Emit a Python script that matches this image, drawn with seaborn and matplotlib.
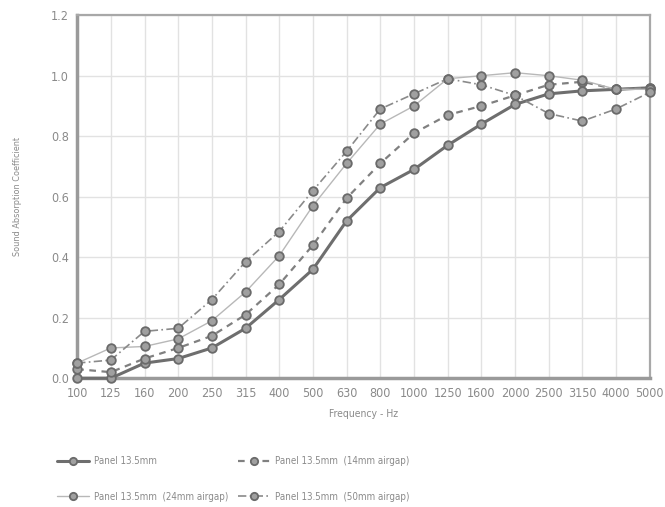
import numpy as np
import pandas as pd
import matplotlib
matplotlib.use("Agg")
import matplotlib.pyplot as plt
import seaborn as sns
from matplotlib import font_manager

# frequency bands (Hz) and absorption coefficients
freqs = ["100", "125", "160", "200", "250", "315", "400", "500", "630",
         "800", "1000", "1250", "1600", "2000", "2500", "3150", "4000", "5000"]
panel = [0.00, 0.00, 0.05, 0.065, 0.10, 0.165, 0.26, 0.36, 0.52,
         0.63, 0.69, 0.77, 0.84, 0.905, 0.94, 0.95, 0.955, 0.96]
gap14 = [0.03, 0.02, 0.065, 0.10, 0.14, 0.21, 0.31, 0.44, 0.595,
         0.71, 0.81, 0.87, 0.90, 0.935, 0.97, 0.98, 0.955, 0.96]
gap24 = [0.05, 0.10, 0.105, 0.13, 0.19, 0.285, 0.405, 0.57, 0.71,
         0.84, 0.90, 0.99, 1.00, 1.01, 1.00, 0.985, 0.955, 0.955]
gap50 = [0.05, 0.06, 0.155, 0.165, 0.26, 0.385, 0.485, 0.62, 0.75,
         0.89, 0.94, 0.99, 0.97, 0.935, 0.875, 0.85, 0.89, 0.945]
labels = ["Panel 13.5mm", "Panel 13.5mm  (14mm airgap)",
          "Panel 13.5mm  (24mm airgap)", "Panel 13.5mm  (50mm airgap)"]

sns.set_style("white")
plt.rcParams['font.family'] = ['DejaVu Sans']
plt.rcParams['font.stretch'] = 'condensed'
# check whether a condensed face exists at all
has_cond = any("Condensed" in f.fname for f in font_manager.fontManager.ttflist)
tick_fs = 9 if has_cond else 8

df = pd.DataFrame({"pos": np.arange(len(freqs))})
styles = [
    dict(color="#6e6e6e", lw=2.2, ls="-"),
    dict(color="#808080", lw=1.6, ls=(0, (3, 2.5))),
    dict(color="#b8b8b8", lw=1.0, ls="-"),
    dict(color="#8a8a8a", lw=1.2, ls=(0, (5, 2, 1, 2))),
]

fig = plt.figure(figsize=(6.65, 5.07), dpi=100)
ax = fig.add_axes([0.116, 0.254, 0.861, 0.716])

handles = []
for vals, lab, st in zip([panel, gap14, gap24, gap50], labels, styles):
    df["val"] = vals
    sns.lineplot(data=df, x="pos", y="val", ax=ax, color=st["color"],
                 linewidth=st["lw"], linestyle=st["ls"], marker="o",
                 markersize=6.2, markerfacecolor="#a0a0a0",
                 markeredgecolor="#6a6a6a", markeredgewidth=1.3,
                 clip_on=False, zorder=3)
    handles.append(ax.lines[-1])

ax.set_xlim(0, len(freqs) - 1)
ax.set_ylim(0, 1.2)
ax.set_xticks(np.arange(len(freqs)))
ax.set_xticklabels(freqs)
ax.set_yticks([0.0, 0.2, 0.4, 0.6, 0.8, 1.0, 1.2])
ax.set_yticklabels(["0.0", "0.2", "0.4", "0.6", "0.8", "1.0", "1.2"])
ax.tick_params(axis="both", colors="#8a8a8a", labelsize=tick_fs, length=0, pad=6)
ax.grid(True, color="#e2e2e2", lw=1.0)
for side in ["left", "bottom"]:
    ax.spines[side].set_color("#9a9a9a")
    ax.spines[side].set_linewidth(2.5)
for side in ["top", "right"]:
    ax.spines[side].set_color("#a8a8a8")
    ax.spines[side].set_linewidth(1.6)

ax.set_xlabel("Frequency - Hz", color="#8a8a8a", fontsize=7.5, labelpad=7)
ax.set_ylabel("Sound Absorption Coefficient", color="#8a8a8a", fontsize=6.5, labelpad=21)

leg = fig.legend([handles[0], handles[2], handles[1], handles[3]],
                 [labels[0], labels[2], labels[1], labels[3]],
                 ncol=2, loc="upper left", bbox_to_anchor=(0.072, 0.117),
                 frameon=False, fontsize=7, labelcolor="#8a8a8a",
                 handlelength=3.3, columnspacing=1.0, labelspacing=2.6,
                 handletextpad=0.5, markerscale=0.85)

fig.savefig("out.png", dpi=100)
